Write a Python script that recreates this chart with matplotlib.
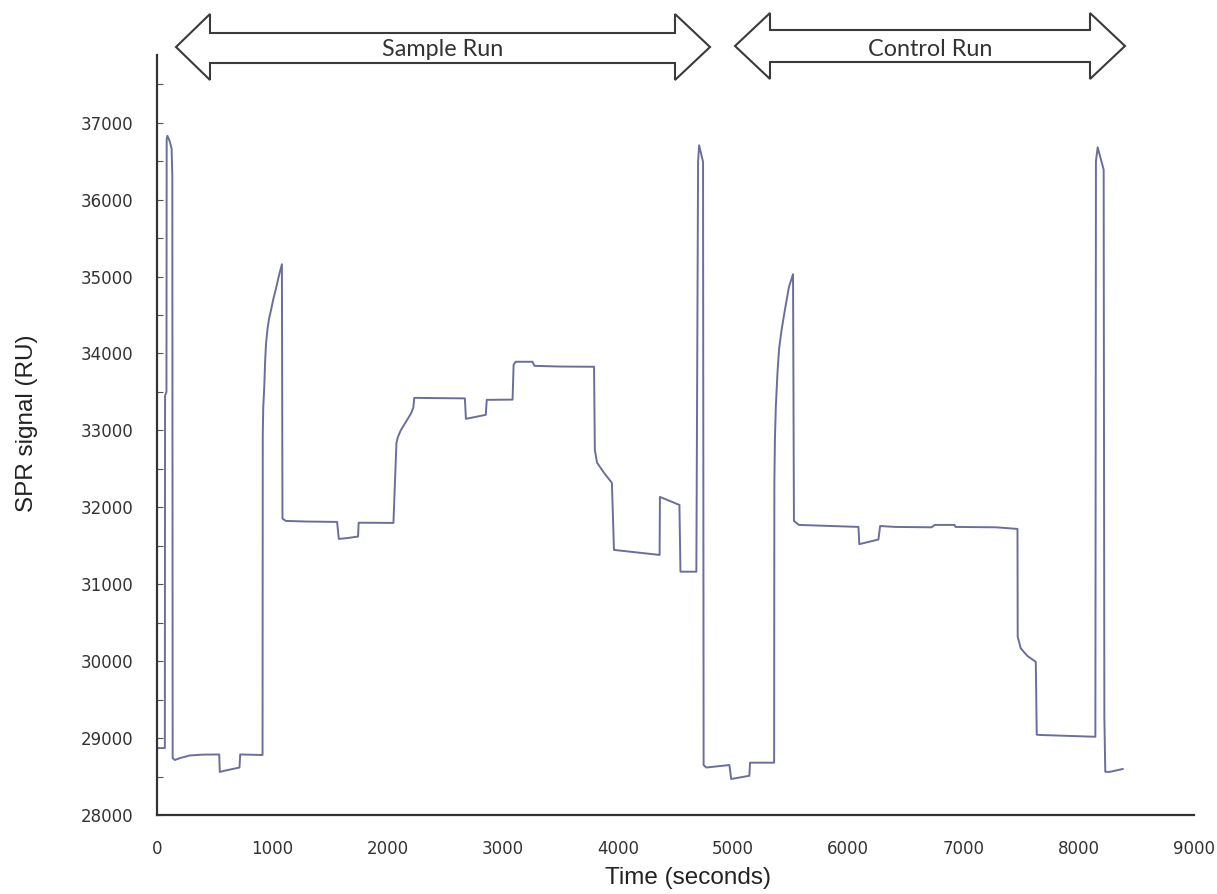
import matplotlib
matplotlib.use("Agg")
import matplotlib.pyplot as plt
from matplotlib.patches import Polygon
from matplotlib.ticker import MultipleLocator

# ---- data (time in s, SPR signal in RU) ----
time_s = [0, 68, 70, 82, 84, 90, 110, 127, 133, 136, 155, 200, 284, 400, 540,
          545, 600, 716, 722, 916, 918, 922, 931, 938, 946, 960, 975, 989,
          1010, 1032, 1058, 1084, 1089,
          1118, 1300, 1563, 1578, 1650, 1745, 1750, 2052, 2078, 2090, 2112,
          2135, 2155, 2180, 2207, 2225, 2233, 2400, 2672, 2681, 2853, 2862,
          3086, 3095, 3112, 3259,
          3276, 3500, 3793, 3800, 3819, 3879, 3948, 3966, 4362, 4365, 4534,
          4543, 4681, 4696, 4705, 4739, 4744, 4767, 4968, 4983, 5141, 5147,
          5356, 5358, 5363, 5371, 5385, 5399, 5420, 5442, 5465, 5485, 5505,
          5520, 5528, 5571, 6088, 6095,
          6261, 6276, 6405, 6722, 6750, 6922, 6930, 7282, 7468, 7470, 7497,
          7554, 7627, 7635, 7670, 8144, 8149, 8164, 8216, 8222, 8230, 8267,
          8381]
signal_ru = [28870, 28870, 33450, 33500, 36780, 36830, 36760, 36660, 36300,
             28740, 28715, 28740, 28774, 28785, 28787, 28560, 28580, 28617,
             28787, 28780, 32940, 33300, 33566, 33880, 34125, 34330, 34470,
             34560, 34710, 34840, 35010, 35160,
             31853, 31823, 31815, 31810, 31589, 31600, 31620, 31800, 31797,
             32837, 32910, 32990, 33050, 33097, 33160, 33227, 33300, 33423,
             33420, 33416, 33150, 33202,
             33397, 33400, 33852, 33892, 33892, 33839, 33830, 33827, 32746,
             32580, 32450, 32317, 31446, 31381, 32135, 32031, 31163, 31163,
             36500, 36706, 36491, 28650, 28617, 28650, 28468, 28510, 28680,
             28680, 32317, 32900, 33318, 33750, 34060, 34300, 34500, 34700,
             34868, 34960, 35030, 31823, 31771,
             31745, 31521, 31581, 31757, 31745, 31740, 31771, 31771, 31745,
             31740, 31719, 30315, 30165, 30068, 29991, 29044, 29040, 29017,
             36500, 36680, 36389, 29274, 28562, 28560, 28598]

x_ticks = [0, 1000, 2000, 3000, 4000, 5000, 6000, 7000, 8000, 9000]
y_ticks = [28000, 29000, 30000, 31000, 32000, 33000, 34000, 35000, 36000, 37000]
run_labels = ["Sample Run", "Control Run"]

W, H = 1217, 894
fig = plt.figure(figsize=(W / 100, H / 100), dpi=100)
ax_left, ax_right, ax_top, ax_bottom = 157, 1194, 55, 815
ax = fig.add_axes([ax_left / W, (H - ax_bottom) / H,
                   (ax_right - ax_left) / W, (ax_bottom - ax_top) / H])

ax.plot(time_s, signal_ru, color="#6b6e9c", lw=1.4, solid_joinstyle="round")

ax.set_xlim(0, 9000)
ax.set_ylim(28000, 37880)
ax.set_xticks(x_ticks)
ax.set_yticks(y_ticks)
ax.set_xticklabels([str(v) for v in x_ticks])
ax.set_yticklabels([str(v) for v in y_ticks])
ax.yaxis.set_minor_locator(MultipleLocator(500))

for s in ("top", "right"):
    ax.spines[s].set_visible(False)
for s in ("left", "bottom"):
    ax.spines[s].set_color("#333333")
    ax.spines[s].set_linewidth(1.6)

ax.tick_params(axis="x", length=0, pad=18, labelsize=12, labelcolor="#333333")
ax.tick_params(axis="y", which="major", direction="in", length=4, width=0.8,
               color="#555555", pad=17, labelsize=12, labelcolor="#333333")
ax.tick_params(axis="y", which="minor", direction="in", length=4, width=0.8,
               color="#555555")
for lab in ax.get_xticklabels() + ax.get_yticklabels():
    lab.set_fontfamily("DejaVu Sans")

ax.set_xlabel("Time (seconds)", fontsize=17.5, family="Liberation Sans",
              color="#222222")
ax.set_ylabel("SPR signal (RU)", fontsize=17.5, family="Liberation Sans",
              color="#222222")
ax.xaxis.set_label_coords((688 - ax_left) / (ax_right - ax_left),
                          (ax_bottom - 878) / (ax_bottom - ax_top))
ax.xaxis.label.set_va("center")
ax.yaxis.set_label_coords((27 - ax_left) / (ax_right - ax_left),
                          (ax_bottom - 423) / (ax_bottom - ax_top))
ax.yaxis.label.set_va("center")


def px(x, y):
    return (x / W, 1 - y / H)


def double_arrow(x0, xb0, xb1, x1, ytop, ybot, stop, sbot, label):
    ym = (ytop + ybot) / 2
    pts = [px(x0, ym), px(xb0, ytop), px(xb0, stop), px(xb1, stop),
           px(xb1, ytop), px(x1, ym), px(xb1, ybot), px(xb1, sbot),
           px(xb0, sbot), px(xb0, ybot)]
    poly = Polygon(pts, closed=True, transform=fig.transFigure,
                   facecolor="white", edgecolor="#3a3a3a", lw=1.5,
                   joinstyle="miter")
    fig.patches.append(poly)
    fig.text((x0 + x1) / 2 / W, 1 - (ym + 3) / H, label, ha="center",
             va="center", fontsize=16.8, family="Lato", color="#333333")


double_arrow(176, 210, 675, 710, 14, 80, 33, 63, run_labels[0])
double_arrow(735, 770, 1090, 1125, 13, 79, 30, 62, run_labels[1])

fig.savefig("out.png", dpi=100, facecolor="white")
